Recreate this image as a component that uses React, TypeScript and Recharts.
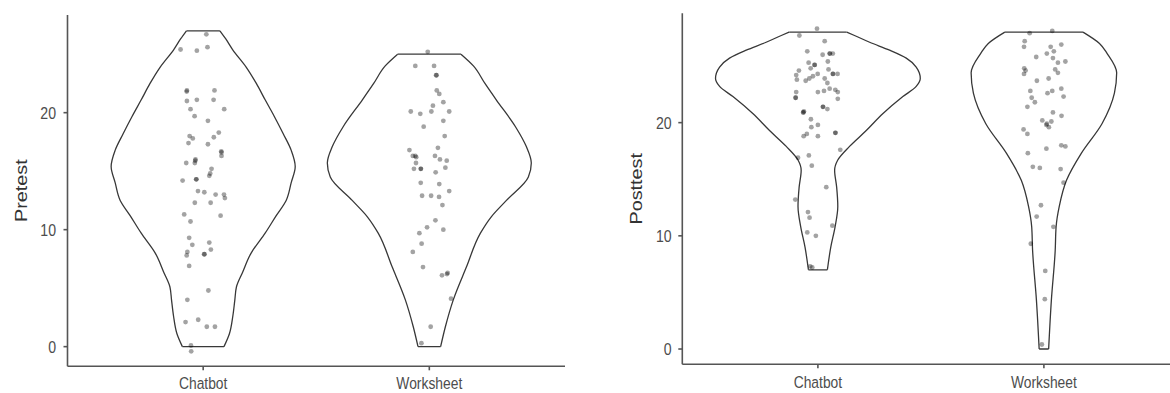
import React from 'react';
import { ScatterChart, Scatter, XAxis, YAxis, Label } from 'recharts';

const FONT = '"Liberation Sans", Arial, Helvetica, sans-serif';
const TEXT_SCALE = 0.84;

const categories = ['Chatbot', 'Worksheet'];
const categoryTicks = [1, 2];
const yTicks = [0, 10, 20];

// ---- violin outlines: score levels and half widths (in category units) ----
const pretestChatbotLevels = [0, 1.1, 2.6, 4.0, 5.1, 6.3, 8.0, 9.7, 11.2, 12.5, 14.0, 15.4, 16.8, 18.2, 19.7, 21.1, 22.5, 23.9, 25.4, 26.3, 27.0];
const pretestChatbotHalf = [0.092, 0.116, 0.131, 0.14, 0.147, 0.173, 0.212, 0.274, 0.323, 0.367, 0.389, 0.407, 0.389, 0.354, 0.314, 0.274, 0.235, 0.19, 0.13, 0.1, 0.074];

const pretestWorksheetLevels = [0, 1.7, 4.0, 6.8, 9.7, 11.1, 12.5, 14.5, 15.7, 17.1, 18.8, 21.1, 22.5, 24.0, 25.0];
const pretestWorksheetHalf = [0.05, 0.071, 0.106, 0.164, 0.226, 0.274, 0.341, 0.438, 0.451, 0.429, 0.381, 0.296, 0.246, 0.195, 0.14];

const posttestChatbotLevels = [7.0, 9.0, 10.8, 12.6, 14.3, 15.8, 16.7, 17.9, 19.3, 20.8, 22.3, 23.2, 23.9, 24.9, 25.7, 26.4, 27.1, 27.7, 28.0];
const posttestChatbotHalf = [0.042, 0.057, 0.076, 0.088, 0.083, 0.074, 0.088, 0.14, 0.214, 0.288, 0.376, 0.435, 0.453, 0.435, 0.391, 0.317, 0.229, 0.162, 0.127];

const posttestWorksheetLevels = [0, 4.3, 8.7, 10.8, 12.6, 14.9, 17.3, 19.9, 22.6, 24.4, 26.1, 27.0, 28.0];
const posttestWorksheetHalf = [0.021, 0.033, 0.05, 0.054, 0.068, 0.1, 0.166, 0.257, 0.312, 0.322, 0.28, 0.246, 0.173];

// ---- jittered observations: [x position, score] ----
const pretestChatbotPoints = [
  [1.014, 26.7], [0.9, 25.4], [0.972, 25.3], [1.019, 25.6], [0.927, 21.8], [0.928, 21.9], [1.05, 21.9], [0.928, 21.0],
  [0.972, 21.1], [1.046, 21.1], [0.944, 20.3], [1.093, 20.3], [0.962, 19.7], [1.021, 19.3], [0.94, 18.0], [0.954, 17.8],
  [0.935, 17.4], [1.021, 17.3], [1.047, 17.9], [1.069, 18.3], [1.08, 16.7], [1.081, 16.6], [1.081, 16.3], [0.965, 15.9],
  [0.966, 16.0], [0.925, 15.7], [0.963, 15.7], [1.037, 15.2], [1.031, 14.8], [1.027, 14.6], [0.909, 14.2], [0.969, 14.3],
  [0.97, 14.3], [0.977, 13.3], [1.005, 13.2], [1.055, 13.0], [1.092, 13.0], [1.096, 12.7], [0.963, 12.3], [1.033, 12.3],
  [0.916, 11.3], [1.077, 11.2], [0.944, 10.7], [0.938, 9.3], [0.952, 8.7], [1.027, 8.9], [1.034, 8.3], [0.93, 8.1],
  [0.927, 7.8], [1.006, 7.9], [1.004, 7.9], [0.938, 6.9], [1.023, 4.8], [0.93, 4.0], [0.922, 2.1], [0.978, 2.3],
  [1.016, 1.7], [1.052, 1.7], [0.946, 0.1], [0.947, -0.4],
];

const pretestWorksheetPoints = [
  [1.993, 25.2], [1.938, 24.0], [2.021, 24.0], [2.03, 23.2], [2.032, 23.2], [2.033, 21.9], [2.044, 21.6], [2.062, 20.9],
  [2.016, 20.6], [1.918, 20.1], [1.96, 19.9], [2.009, 20.1], [2.088, 20.1], [2.062, 19.3], [1.975, 18.8], [2.068, 18.0],
  [2.038, 17.0], [1.912, 16.8], [1.927, 16.3], [1.942, 16.2], [1.938, 16.3], [2.025, 16.3], [2.047, 16.0], [2.077, 15.9],
  [1.941, 15.7], [1.932, 15.2], [1.962, 15.2], [1.963, 15.2], [2.071, 15.3], [2.028, 14.9], [1.962, 14.0], [2.044, 13.9],
  [2.088, 13.3], [1.968, 12.9], [2.008, 12.9], [2.043, 12.8], [2.058, 12.1], [2.027, 10.8], [1.99, 10.2], [2.062, 10.0],
  [1.956, 9.7], [1.966, 8.8], [1.927, 8.1], [1.972, 6.8], [2.056, 6.1], [2.081, 6.3], [2.078, 6.2], [2.096, 4.1],
  [2.006, 1.7], [1.965, 0.3],
];

const posttestChatbotPoints = [
  [0.996, 28.3], [0.918, 27.7], [1.03, 27.2], [0.953, 26.3], [1.021, 26.0], [1.052, 26.1], [1.053, 26.1], [1.066, 26.1],
  [1.044, 25.4], [0.959, 25.3], [0.985, 25.1], [0.986, 25.1], [0.968, 24.8], [0.916, 24.6], [1.047, 24.7], [0.904, 24.2],
  [0.999, 24.3], [0.978, 24.1], [1.066, 24.3], [1.067, 24.3], [1.087, 24.3], [1.03, 23.9], [0.962, 23.9], [0.946, 23.7],
  [0.907, 23.8], [1.042, 23.5], [1.052, 23.0], [1.077, 22.9], [1.027, 22.8], [1.0, 22.7], [1.088, 22.7], [0.904, 22.7],
  [0.901, 22.2], [0.902, 22.2], [1.088, 22.1], [1.022, 21.4], [1.023, 21.4], [1.042, 21.2], [0.938, 21.0], [0.935, 20.9],
  [0.936, 20.9], [0.969, 20.3], [1.0, 19.8], [0.971, 19.6], [0.951, 19.0], [0.937, 18.8], [1.0, 18.8], [1.077, 19.1],
  [1.078, 19.1], [1.099, 17.6], [0.912, 16.9], [0.96, 17.1], [0.973, 16.2], [1.037, 14.3], [0.9, 13.2], [0.956, 12.1],
  [0.963, 11.6], [1.064, 10.9], [0.953, 10.3], [0.991, 10.0], [0.966, 7.3], [0.975, 7.2],
];

const posttestWorksheetPoints = [
  [1.937, 27.9], [2.037, 28.1], [1.915, 27.2], [2.077, 26.9], [1.912, 26.7], [2.03, 26.7], [2.044, 26.3], [2.013, 26.1],
  [1.966, 25.8], [2.04, 25.7], [2.062, 25.3], [2.095, 25.4], [1.913, 24.8], [1.919, 24.6], [1.912, 24.3], [2.05, 24.7],
  [2.062, 24.4], [1.969, 23.7], [2.021, 23.9], [1.94, 22.8], [1.946, 22.2], [1.96, 21.8], [2.016, 22.6], [2.037, 22.8],
  [2.077, 23.0], [2.087, 22.3], [1.927, 21.4], [2.04, 20.9], [2.078, 20.6], [1.993, 20.2], [2.013, 19.9], [2.022, 19.6],
  [2.033, 20.1], [2.011, 19.8], [1.91, 19.4], [1.927, 19.0], [2.077, 18.0], [2.095, 17.9], [2.011, 17.7], [1.929, 17.3],
  [1.951, 16.1], [1.982, 16.0], [2.074, 15.9], [2.087, 14.7], [1.987, 12.7], [1.968, 11.7], [2.042, 10.8], [1.942, 9.3],
  [2.006, 6.9], [2.004, 4.4], [1.991, 0.4],
];

type Pt = { x: number; y: number };

function toPoints(list: number[][]): Pt[] {
  return list.map(([x, y]) => ({ x, y }));
}

function violinParts(center: number, levels: number[], half: number[]) {
  const n = levels.length;
  const right: Pt[] = [];
  const left: Pt[] = [];
  for (let i = n - 1; i >= 0; i--) {
    right.push({ x: center + half[i], y: levels[i] });
    left.push({ x: center - half[i], y: levels[i] });
  }
  const top: Pt[] = [
    { x: center - half[n - 1], y: levels[n - 1] },
    { x: center + half[n - 1], y: levels[n - 1] },
  ];
  const bottom: Pt[] = [
    { x: center - half[0], y: levels[0] },
    { x: center + half[0], y: levels[0] },
  ];
  return { right, left, top, bottom };
}

const EmptyShape = () => <g />;

const DotShape = (props: any) => {
  if (props.cx == null || props.cy == null) return <g />;
  return <circle cx={props.cx} cy={props.cy} r={2.4} fill="#000" fillOpacity={0.36} />;
};

const XTick = (props: any) => {
  const { x, y, payload } = props;
  const label = categories[Math.round(payload.value) - 1] ?? '';
  return (
    <g transform={`translate(${x},${y}) scale(${TEXT_SCALE},1)`}>
      <text x={0} y={0} dy="0.71em" textAnchor="middle" fontSize={16.5} fontFamily={FONT} fill="#4d4d4d">
        {label}
      </text>
    </g>
  );
};

const YTick = (props: any) => {
  const { x, y, payload } = props;
  return (
    <g transform={`translate(${x},${y}) scale(${TEXT_SCALE},1)`}>
      <text x={0} y={0} dy="0.355em" textAnchor="end" fontSize={16.8} fontFamily={FONT} fill="#4d4d4d">
        {payload.value}
      </text>
    </g>
  );
};

const AXIS_STYLE = { stroke: '#555', strokeWidth: 1.6 };
const OUTLINE = { stroke: '#383838', strokeWidth: 1.3, fill: 'none' };

type PanelProps = {
  title: string;
  yDomain: [number, number];
  violins: { levels: number[]; half: number[]; center: number }[];
  points: number[][][];
  width: number;
  height: number;
  margin: { top: number; right: number; bottom: number; left: number };
  yAxisWidth: number;
  xAxisHeight: number;
  xTickMargin: number;
  yTickMargin: number;
};

function Panel(p: PanelProps) {
  const plotLeft = p.margin.left + p.yAxisWidth;
  const plotTop = p.margin.top;
  const plotBottom = p.height - p.margin.bottom - p.xAxisHeight;
  const titleX = plotLeft - 40.8;
  const titleY = (plotTop + plotBottom) / 2;

  const outlineSeries: React.ReactNode[] = [];
  p.violins.forEach((v, vi) => {
    const parts = violinParts(v.center, v.levels, v.half);
    outlineSeries.push(
      <Scatter key={`r${vi}`} data={parts.right} line={OUTLINE} lineJointType="monotoneY" shape={EmptyShape} isAnimationActive={false} legendType="none" />,
      <Scatter key={`l${vi}`} data={parts.left} line={OUTLINE} lineJointType="monotoneY" shape={EmptyShape} isAnimationActive={false} legendType="none" />,
      <Scatter key={`t${vi}`} data={parts.top} line={OUTLINE} lineJointType="linear" shape={EmptyShape} isAnimationActive={false} legendType="none" />,
      <Scatter key={`b${vi}`} data={parts.bottom} line={OUTLINE} lineJointType="linear" shape={EmptyShape} isAnimationActive={false} legendType="none" />
    );
  });

  return (
    <ScatterChart width={p.width} height={p.height} margin={p.margin}>
      <XAxis
        type="number"
        dataKey="x"
        domain={[0.4, 2.6]}
        ticks={categoryTicks}
        allowDataOverflow
        interval={0}
        height={p.xAxisHeight}
        tickSize={4}
        tickMargin={p.xTickMargin}
        axisLine={AXIS_STYLE}
        tickLine={AXIS_STYLE}
        tick={<XTick />}
      />
      <YAxis
        type="number"
        dataKey="y"
        domain={p.yDomain}
        ticks={yTicks}
        allowDataOverflow
        interval={0}
        width={p.yAxisWidth}
        tickSize={4}
        tickMargin={p.yTickMargin}
        axisLine={AXIS_STYLE}
        tickLine={AXIS_STYLE}
        tick={<YTick />}
      >
        <Label
          content={() => (
            <g transform={`translate(${titleX},${titleY}) rotate(-90) scale(1,${TEXT_SCALE})`}>
              <text x={0} y={0} textAnchor="middle" fontSize={19.8} fontFamily={FONT} fill="#333">
                {p.title}
              </text>
            </g>
          )}
        />
      </YAxis>
      {outlineSeries}
      {p.points.map((pts, i) => (
        <Scatter key={`p${i}`} data={toPoints(pts)} shape={DotShape} isAnimationActive={false} legendType="none" />
      ))}
    </ScatterChart>
  );
}

export default function App() {
  return (
    <div
      style={{
        position: 'fixed',
        left: 0,
        top: 0,
        width: 1170,
        height: 393,
        overflow: 'hidden',
        background: '#fff',
      }}
    >
      <div style={{ position: 'absolute', left: 0, top: 0 }}>
        <Panel
          title="Pretest"
          yDomain={[-1.68, 28.35]}
          violins={[
            { center: 1, levels: pretestChatbotLevels, half: pretestChatbotHalf },
            { center: 2, levels: pretestWorksheetLevels, half: pretestWorksheetHalf },
          ]}
          points={[pretestChatbotPoints, pretestWorksheetPoints]}
          width={580}
          height={393}
          margin={{ top: 15, right: 15, bottom: 0, left: 0 }}
          yAxisWidth={67.5}
          xAxisHeight={26.7}
          xTickMargin={7.3}
          yTickMargin={7.5}
        />
      </div>
      <div style={{ position: 'absolute', left: 600, top: 0 }}>
        <Panel
          title="Posttest"
          yDomain={[-1.35, 29.66]}
          violins={[
            { center: 1, levels: posttestChatbotLevels, half: posttestChatbotHalf },
            { center: 2, levels: posttestWorksheetLevels, half: posttestWorksheetHalf },
          ]}
          points={[posttestChatbotPoints, posttestWorksheetPoints]}
          width={600}
          height={393}
          margin={{ top: 13.3, right: 20.5, bottom: 0, left: 0 }}
          yAxisWidth={82.3}
          xAxisHeight={28.7}
          xTickMargin={8.2}
          yTickMargin={6.6}
        />
      </div>
    </div>
  );
}
